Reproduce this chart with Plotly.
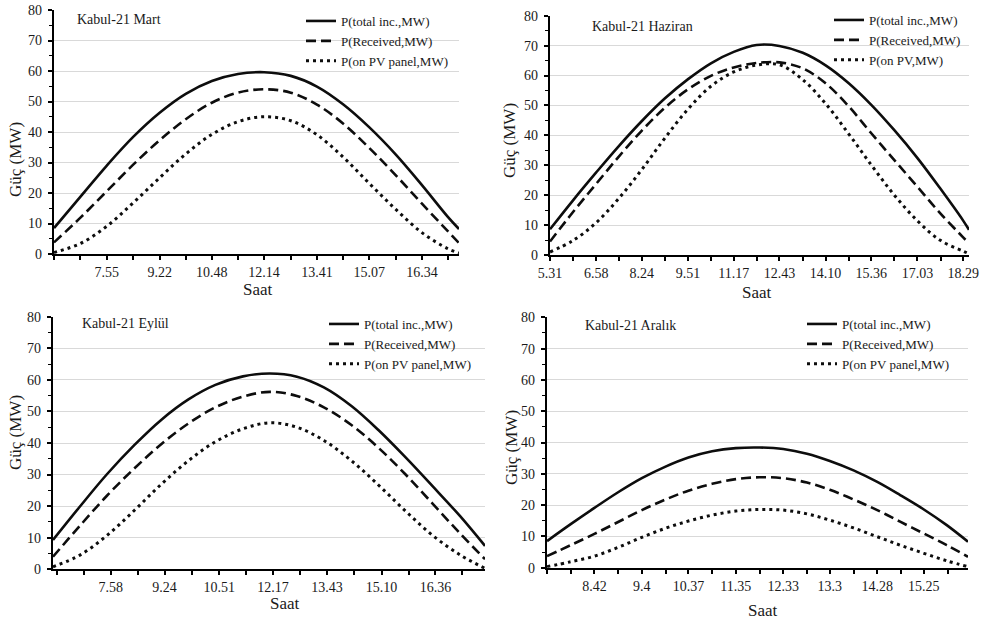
import plotly.graph_objects as go

# ---------------- data (times as h.mm strings, power in MW) ----------------
mart_times = ["6.28", "7.12", "7.55", "8.38", "9.22", "10.05", "10.48", "11.31", "12.14",
              "12.58", "13.41", "14.24", "15.07", "15.51", "16.34", "17.17", "17.35"]
mart_total = [8.5, 18.9, 29, 38.3, 46.3, 52.5, 56.7, 59, 59.6, 58.4, 54.9, 49.1, 41.6, 32.6, 22.6, 12.1, 8.2]
mart_received = [3.8, 12, 20.6, 29.2, 37.3, 44.2, 49.6, 52.9, 54, 52.9, 49, 42.8, 34.8, 25.8, 16.5, 7.4, 3.6]
mart_pv = [0.5, 3.5, 9.1, 16.7, 25, 32.8, 39.2, 43.4, 45, 43.7, 39.1, 31.8, 23.2, 14.6, 7, 1.7, 0.3]
mart_labels = ["7.55", "9.22", "10.48", "12.14", "13.41", "15.07", "16.34"]

haz_times = ["5.31", "6.14", "6.58", "7.41", "8.24", "9.07", "9.51", "10.34", "11.17", "12.00",
             "12.43", "13.27", "14.10", "14.53", "15.36", "16.19", "17.03", "17.46", "18.29", "18.40"]
haz_total = [8.6, 18.2, 27.6, 36.5, 44.8, 52.3, 58.8, 64.1, 67.9, 70.2, 69.9, 67.6, 63.4, 57.5, 50.2, 41.8, 32.4, 22.2, 11.5, 8.4]
haz_received = [4.5, 14.3, 23.8, 33, 41.6, 49.2, 55.4, 59.9, 62.7, 64.2, 64.4, 62.4, 57.4, 49.8, 40.7, 31.8, 22.8, 13.9, 5.9, 3.9]
haz_pv = [1, 4.8, 10.8, 19, 28.6, 39, 48.8, 56.4, 61.2, 63.5, 63.6, 58.6, 50.6, 40.6, 30.1, 20.1, 11.4, 4.9, 1.3, 0.4]
haz_labels = ["5.31", "6.58", "8.24", "9.51", "11.17", "12.43", "14.10", "15.36", "17.03", "18.29"]

eyl_times = ["6.26", "7.09", "7.52", "8.36", "9.19", "10.02", "10.45", "11.29", "12.12",
             "12.55", "13.38", "14.22", "15.05", "15.48", "16.31", "17.15", "17.55"]
eyl_total = [9.3, 19.9, 30.1, 39.4, 47.4, 53.8, 58.4, 61.1, 62, 61, 57.6, 51.7, 44.1, 35.5, 26.4, 16.9, 7.4]
eyl_received = [4, 13.8, 23.3, 32, 39.7, 46.2, 51.3, 54.7, 56.2, 54.9, 51.3, 45.7, 38.5, 30.1, 20.9, 11.4, 3.2]
eyl_pv = [0.8, 4.5, 10.7, 18.7, 27, 34.4, 40.4, 44.5, 46.4, 45, 40.8, 34.4, 26.7, 18.5, 10.8, 4.6, 0.3]
eyl_labels = ["7.58", "9.24", "10.51", "12.17", "13.43", "15.10", "16.36"]

ara_times = ["7.44", "8.13", "8.42", "9.11", "9.40", "10.09", "10.37", "11.06", "11.35", "12.04",
             "12.33", "13.02", "13.30", "13.59", "14.28", "14.56", "15.25", "15.53", "16.19"]
ara_total = [8.5, 13.9, 19.1, 24.1, 28.6, 32.3, 35.2, 37.2, 38.2, 38.4, 37.9, 36.4, 34.1, 31.1, 27.4, 23.2, 18.6, 13.6, 8.3]
ara_received = [3.7, 7.2, 10.8, 14.6, 18.4, 21.8, 24.6, 26.8, 28.3, 28.9, 28.6, 27.2, 24.9, 21.8, 18.4, 14.7, 10.9, 7.2, 3.5]
ara_pv = [0.3, 1.9, 3.7, 6.5, 9.7, 12.6, 14.9, 16.8, 18.1, 18.6, 18.4, 17.2, 15.2, 12.7, 9.9, 7.2, 4.6, 2.2, 0.3]
ara_label_times = ["8.42", "9.40", "10.37", "11.35", "12.33", "13.30", "14.28", "15.25"]
ara_labels = ["8.42", "9.4", "10.37", "11.35", "12.33", "13.3", "14.28", "15.25"]

panel_titles = ["Kabul-21 Mart", "Kabul-21 Haziran", "Kabul-21 Eylül", "Kabul-21 Aralık"]
series_names_a = ["P(total inc.,MW)", "P(Received,MW)", "P(on PV panel,MW)"]
series_names_b = ["P(total inc.,MW)", "P(Received,MW)", "P(on PV,MW)"]
y_title = "Güç (MW)"
x_title = "Saat"


def hm(s):
    h, m = s.split(".")
    return int(h) + int(m) / 60.0


FONT = "Liberation Serif"
TXT = "#1a1a1a"

panels = [
    dict(times=mart_times, series=[mart_total, mart_received, mart_pv], names=series_names_a,
         label_times=mart_labels, labels=mart_labels,
         dx=(54, 459), dy=(254, 10), legend=(301, 6),
         title=(75, 19), ytitle=(15, 160), xtitle=(258, 289)),
    dict(times=haz_times, series=[haz_total, haz_received, haz_pv], names=series_names_b,
         label_times=haz_labels, labels=haz_labels,
         dx=(550, 969), dy=(255, 15.7), legend=(829, 5),
         title=(590, 27), ytitle=(509, 140), xtitle=(757, 292)),
    dict(times=eyl_times, series=[eyl_total, eyl_received, eyl_pv], names=series_names_a,
         label_times=eyl_labels, labels=eyl_labels,
         dx=(53, 485), dy=(569.3, 316.7), legend=(324, 309),
         title=(80, 323), ytitle=(15, 433), xtitle=(285, 603)),
    dict(times=ara_times, series=[ara_total, ara_received, ara_pv], names=series_names_a,
         label_times=ara_label_times, labels=ara_labels,
         dx=(547, 968), dy=(567.7, 317.3), legend=(802, 309),
         title=(583, 325), ytitle=(511, 448), xtitle=(763, 610)),
]

W, H = 982, 621
styles = [dict(dash="solid", width=2.6), dict(dash="10px,5px", width=2.6), dict(dash="3px,4px", width=3)]

fig = go.Figure()
layout = dict(width=W, height=H, margin=dict(l=0, r=0, t=0, b=0, autoexpand=False),
              paper_bgcolor="white", plot_bgcolor="white",
              font=dict(family=FONT, color=TXT, size=14), annotations=[])

for i, p in enumerate(panels):
    n = "" if i == 0 else str(i + 1)
    xa, ya = "x" + n, "y" + n
    lg = "legend" + n
    xs = [hm(t) for t in p["times"]]
    for s, name, st in zip(p["series"], p["names"], styles):
        fig.add_trace(go.Scatter(x=xs, y=s, name=name, mode="lines", line_shape="spline",
                                 line=dict(color="#0d0d0d", width=st["width"], dash=st["dash"], smoothing=1),
                                 xaxis=xa, yaxis=ya, legend=lg, showlegend=True))
    # ticks: at labelled times and halfway between them
    label_pos = [hm(t) for t in p["label_times"]]
    step = (label_pos[1] - label_pos[0]) / 2.0
    tickvals, ticktext = [], []
    v = label_pos[0]
    while v - step >= xs[0] - 1e-6:
        v -= step
    while v <= xs[-1] - 0.05:
        txt = ""
        for lp, lb in zip(label_pos, p["labels"]):
            if abs(lp - v) < 0.05:
                txt = lb
                v = lp
        tickvals.append(v)
        ticktext.append(txt)
        v += step
    x0, x1 = p["dx"]
    yb, yt = p["dy"]
    layout["xaxis" + n] = dict(domain=[x0 / W, x1 / W], range=[xs[0], xs[-1]], anchor=ya,
                               showline=True, linecolor="black", linewidth=2.2,
                               ticks="outside", ticklen=4, tickwidth=1.5, tickcolor="black",
                               tickmode="array", tickvals=tickvals, ticktext=ticktext,
                               showgrid=False, zeroline=False, automargin=False,
                               tickfont=dict(family=FONT, size=14, color=TXT))
    layout["yaxis" + n] = dict(domain=[(H - yb) / H, (H - yt) / H], range=[0, 80], anchor=xa,
                               showline=True, linecolor="black", linewidth=2.2,
                               ticks="outside", ticklen=4, tickwidth=1.5, tickcolor="black",
                               dtick=10, tick0=0, showgrid=True, gridcolor="#d9d9d9", gridwidth=1,
                               zeroline=False, ticklabelstandoff=3, automargin=False,
                               minor=dict(dtick=5, ticks="outside", ticklen=3, tickwidth=1.2,
                                          tickcolor="black", showgrid=False),
                               tickfont=dict(family=FONT, size=14, color=TXT))
    lx, ly = p["legend"]
    layout[lg] = dict(x=lx / W, y=(H - ly) / H, xanchor="left", yanchor="top",
                      bgcolor="rgba(0,0,0,0)", borderwidth=0, itemwidth=30,
                      font=dict(family=FONT, size=13, color=TXT), tracegroupgap=0)
    tx, ty = p["title"]
    layout["annotations"].append(dict(text=panel_titles[i], x=tx / W, y=(H - ty) / H, xref="paper", yref="paper",
                                      xanchor="left", yanchor="middle", showarrow=False,
                                      font=dict(family=FONT, size=14, color=TXT)))
    yx, yy = p["ytitle"]
    layout["annotations"].append(dict(text=y_title, x=yx / W, y=(H - yy) / H, xref="paper", yref="paper",
                                      xanchor="center", yanchor="middle", showarrow=False, textangle=-90,
                                      font=dict(family=FONT, size=17, color=TXT)))
    sx, sy = p["xtitle"]
    layout["annotations"].append(dict(text=x_title, x=sx / W, y=(H - sy) / H, xref="paper", yref="paper",
                                      xanchor="center", yanchor="middle", showarrow=False,
                                      font=dict(family=FONT, size=17, color=TXT)))

fig.update_layout(**layout)
fig.write_html("out.html")
